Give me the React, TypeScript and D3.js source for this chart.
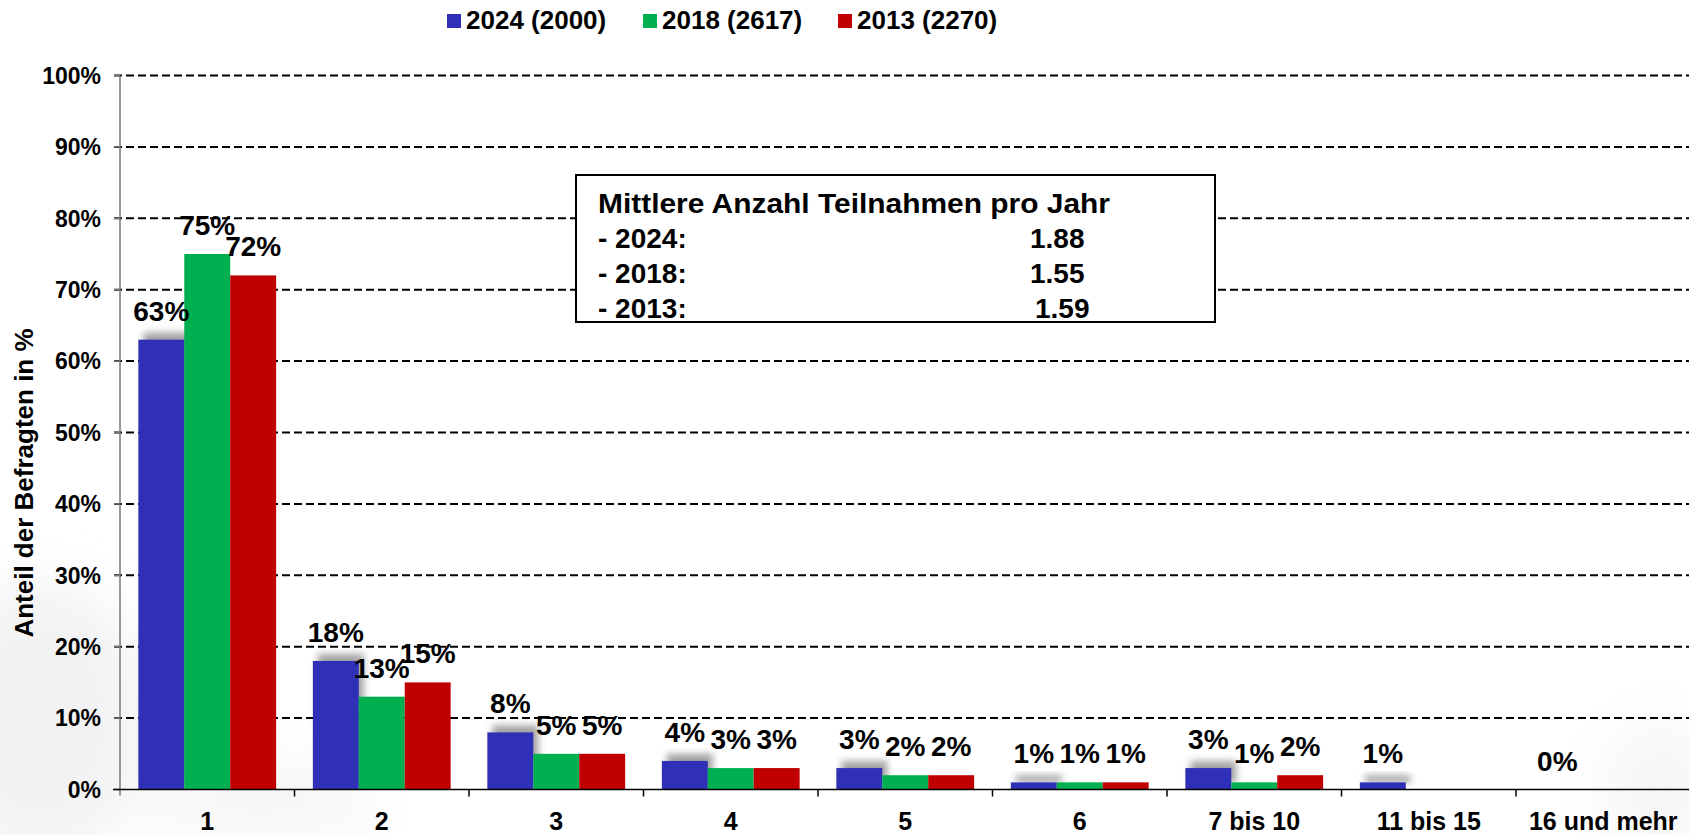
import React from "react";
import * as d3 from "d3";

// categories and series (percent of respondents)
const categories = ["1", "2", "3", "4", "5", "6", "7 bis 10", "11 bis 15", "16 und mehr"];
const seriesNames = ["2024 (2000)", "2018 (2617)", "2013 (2270)"];
const values2024 = [63, 18, 8, 4, 3, 1, 3, 1, 0];
const values2018 = [75, 13, 5, 3, 2, 1, 1, null, null];
const values2013 = [72, 15, 5, 3, 2, 1, 2, null, null];
const colors = ["#2F2FB7", "#00B050", "#C00000"];
const yTicks = [0, 10, 20, 30, 40, 50, 60, 70, 80, 90, 100];

// info box
const boxTitle = "Mittlere Anzahl Teilnahmen pro Jahr";
const boxYears = ["- 2024:", "- 2018:", "- 2013:"];
const boxMeans = ["1.88", "1.55", "1.59"];

const W = 1689;
const H = 835;
const FONT = "'Liberation Sans', Arial, sans-serif";

export default function App() {
  const series = [values2024, values2018, values2013];

  const x0 = d3.scaleBand<string>()
    .domain(categories)
    .range([120, 120 + 9 * 174.5])
    .paddingInner(0)
    .paddingOuter(0);

  const x1 = d3.scaleBand<number>()
    .domain([0, 1, 2])
    .range([0, x0.bandwidth()])
    .paddingInner(0)
    .paddingOuter(0.4);

  const y = d3.scaleLinear().domain([0, 100]).range([789.5, 75.5]);

  return (
    <svg width={W} height={H} style={{ position: "absolute", left: 0, top: 0, background: "#fff" }} fontFamily={FONT}>
      <defs>
        <filter id="shadow" x="-50%" y="-50%" width="200%" height="200%">
          <feGaussianBlur stdDeviation="3.5" />
        </filter>
        <filter id="bgblur" x="-50%" y="-50%" width="200%" height="200%">
          <feGaussianBlur stdDeviation="25" />
        </filter>
      </defs>

      {/* faint background watermark */}
      <g filter="url(#bgblur)" opacity={0.5}>
        <ellipse cx={40} cy={720} rx={110} ry={140} fill="#e6e6e6" />
        <ellipse cx={260} cy={800} rx={120} ry={40} fill="#eeeeee" />
        <ellipse cx={1660} cy={790} rx={60} ry={70} fill="#eeeeee" />
      </g>

      {/* legend */}
      {seriesNames.map((s, i) => {
        const lx = [447, 643, 838][i];
        return (
          <g key={s}>
            <rect x={lx} y={14} width={14} height={14} fill={colors[i]} />
            <text x={lx + 19} y={28.5} fontSize={26} fontWeight="bold">{s}</text>
          </g>
        );
      })}

      {/* gridlines */}
      {yTicks.filter(t => t > 0).map(t => (
        <line key={t} x1={114} x2={W} y1={y(t)} y2={y(t)} stroke="#000" strokeWidth={2} strokeDasharray="8,4" />
      ))}

      {/* y axis */}
      <line x1={120} x2={120} y1={y(100)} y2={y(0) + 6} stroke="#777" strokeWidth={1.5} />
      {yTicks.map(t => (
        <g key={t}>
          <line x1={114} x2={120} y1={y(t)} y2={y(t)} stroke="#777" strokeWidth={1.5} />
          <text x={101} y={y(t)} dy="0.36em" textAnchor="end" fontSize={23} fontWeight="bold">{t + "%"}</text>
        </g>
      ))}
      <text transform={`translate(33,483) rotate(-90)`} textAnchor="middle" fontSize={26} fontWeight="bold">
        Anteil der Befragten in %
      </text>

      {/* bars */}
      {categories.map((c, ci) => (
        <g key={c} transform={`translate(${x0(c)},0)`}>
          {series.map((vals, si) => {
            const v = vals[ci];
            if (v === null) return null;
            const bx = x1(si) as number;
            return (
              <g key={si}>
                {si === 0 && v > 0 && (
                  <rect x={bx + 5} y={y(v) - 7} width={x1.bandwidth()} height={y(0) - y(v)}
                    fill="#555" opacity={0.55} filter="url(#shadow)" />
                )}
                <rect x={bx} y={y(v)} width={x1.bandwidth()} height={y(0) - y(v)} fill={colors[si]} />
              </g>
            );
          })}
        </g>
      ))}

      {/* value labels */}
      {categories.map((c, ci) => (
        <g key={c} transform={`translate(${x0(c)},0)`}>
          {series.map((vals, si) => {
            const v = vals[ci];
            if (v === null) return null;
            return (
              <text key={si} x={(x1(si) as number) + x1.bandwidth() / 2} y={y(v) - 19}
                textAnchor="middle" fontSize={28} fontWeight="bold">{v + "%"}</text>
            );
          })}
        </g>
      ))}

      {/* x axis */}
      <line x1={113} x2={W} y1={y(0)} y2={y(0)} stroke="#000" strokeWidth={1.5} />
      {categories.map((c, ci) => (
        <g key={c}>
          {ci > 0 && <line x1={x0(c)} x2={x0(c)} y1={y(0)} y2={y(0) + 7} stroke="#000" strokeWidth={1.5} />}
          <text x={(x0(c) as number) + x0.bandwidth() / 2} y={830} textAnchor="middle" fontSize={25} fontWeight="bold">{c}</text>
        </g>
      ))}

      {/* info box */}
      <rect x={576} y={175} width={639} height={147} fill="#fff" stroke="#000" strokeWidth={2} />
      <text x={598} y={213} fontSize={28} fontWeight="bold" textLength={512} lengthAdjust="spacingAndGlyphs">{boxTitle}</text>
      {boxYears.map((yr, i) => (
        <g key={yr}>
          <text x={598} y={248 + i * 35} fontSize={28} fontWeight="bold">{yr}</text>
          <text x={i === 2 ? 1035 : 1030} y={248 + i * 35} fontSize={28} fontWeight="bold">{boxMeans[i]}</text>
        </g>
      ))}
    </svg>
  );
}
